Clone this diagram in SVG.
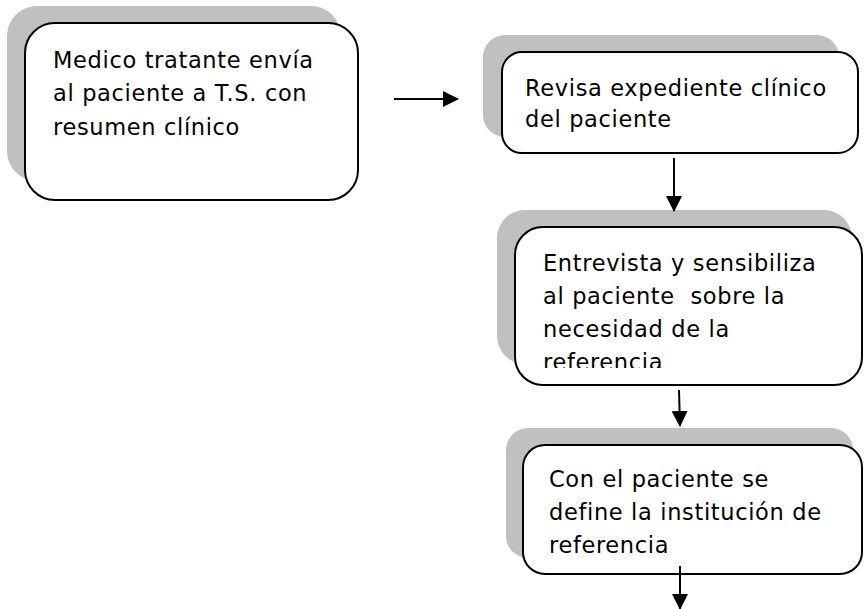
<svg xmlns="http://www.w3.org/2000/svg" width="864" height="609" viewBox="0 0 864 609">
<style>
.shadow{fill:#c0c0c0;stroke:none}
.box{fill:#fff;stroke:#000;stroke-width:2}
.t{font-family:"DejaVu Sans",Verdana,sans-serif;font-size:22.5px;letter-spacing:0.65px;fill:#000}
.c{stroke:#000;stroke-width:2;fill:none;marker-end:url(#ah)}
</style>
<defs>
<marker id="ah" viewBox="0 0 16 16" refX="15" refY="8" markerWidth="16" markerHeight="16" markerUnits="userSpaceOnUse" orient="auto">
<path d="M0,0 L16,8 L0,16 z" fill="#000"/>
</marker>
<clipPath id="clip3"><rect x="515" y="227" width="350" height="141"/></clipPath>
</defs>
<rect width="864" height="609" fill="#fff"/>
<g id="n1">
<rect class="shadow" x="7" y="6" width="334" height="175" rx="30"/>
<rect class="box" x="25" y="23" width="333" height="177" rx="30"/>
<text class="t" x="53" y="68">Medico tratante envía</text>
<text class="t" x="53" y="101">al paciente a T.S. con</text>
<text class="t" x="53" y="135">resumen clínico</text>
</g>
<g id="n2">
<rect class="shadow" x="483" y="35" width="356" height="102" rx="22"/>
<rect class="box" x="502" y="52" width="356" height="101" rx="20"/>
<text class="t" x="525" y="96">Revisa expediente clínico</text>
<text class="t" x="525" y="127">del paciente</text>
</g>
<g id="n3">
<rect class="shadow" x="497" y="210" width="355" height="154" rx="28"/>
<rect class="box" x="515" y="227" width="347" height="158" rx="28"/>
<g clip-path="url(#clip3)">
<text class="t" x="543" y="271">Entrevista y sensibiliza</text>
<text class="t" x="543" y="304" xml:space="preserve">al paciente  sobre la</text>
<text class="t" x="543" y="337">necesidad de la</text>
<text class="t" x="543" y="370">referencia</text>
</g>
</g>
<g id="n4">
<rect class="shadow" x="506" y="428" width="347" height="130" rx="22"/>
<rect class="box" x="523" y="445" width="339" height="129" rx="22"/>
<text class="t" x="549" y="487">Con el paciente se</text>
<text class="t" x="549" y="520">define la institución de</text>
<text class="t" x="549" y="553">referencia</text>
</g>
<g id="connectors">
<line class="c" x1="394" y1="99" x2="458" y2="99"/>
<line class="c" x1="674" y1="158" x2="674" y2="211"/>
<line class="c" x1="679" y1="390" x2="680" y2="426"/>
<line class="c" x1="680" y1="566" x2="680" y2="609"/>
</g>
</svg>
